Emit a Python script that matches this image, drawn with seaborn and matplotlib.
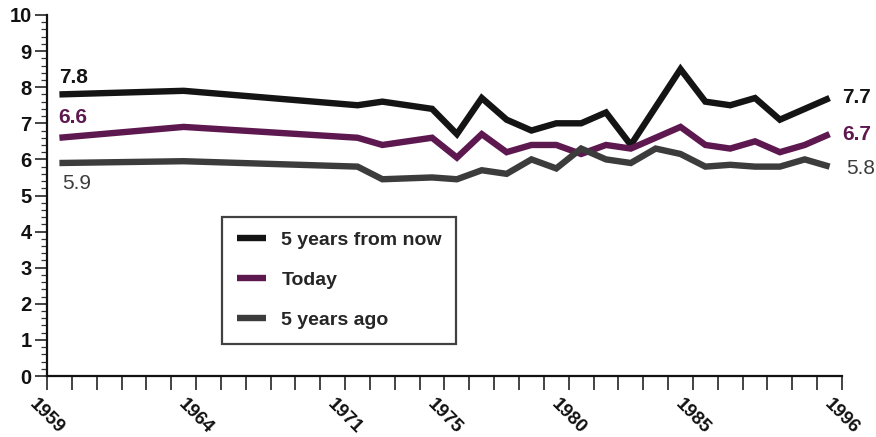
import numpy as np
import pandas as pd
import matplotlib
matplotlib.use("Agg")
import matplotlib.pyplot as plt
import seaborn as sns
from matplotlib.ticker import MultipleLocator, FixedLocator, FixedFormatter

# ---- data ----
# x slot of each survey on the chart's (uneven) time axis
survey_slot = [0.5, 5.5, 12.5, 13.5, 15.5, 16.5, 17.5, 18.5, 19.5, 20.5, 21.5,
               22.5, 23.5, 24.5, 25.5, 26.5, 27.5, 28.5, 29.5, 30.5, 31.5]
future = [7.8, 7.9, 7.5, 7.6, 7.4, 6.7, 7.7, 7.1, 6.8, 7.0, 7.0,
          7.3, 6.4, 7.45, 8.5, 7.6, 7.5, 7.7, 7.1, 7.4, 7.7]
today = [6.6, 6.9, 6.6, 6.4, 6.6, 6.05, 6.7, 6.2, 6.4, 6.4, 6.15,
         6.4, 6.3, 6.6, 6.9, 6.4, 6.3, 6.5, 6.2, 6.4, 6.7]
past = [5.9, 5.95, 5.8, 5.45, 5.5, 5.45, 5.7, 5.6, 6.0, 5.75, 6.3,
        6.0, 5.9, 6.3, 6.15, 5.8, 5.85, 5.8, 5.8, 6.0, 5.8]
series_names = ["5 years from now", "Today", "5 years ago"]
tick_slots = [0, 6, 12, 16, 21, 26, 32]
tick_labels = ["1959", "1964", "1971", "1975", "1980", "1985", "1996"]

colors = {"5 years from now": "#141414", "Today": "#5e1850", "5 years ago": "#3c3c3c"}

rows = []
for name, vals in zip(series_names, [future, today, past]):
    for x, v in zip(survey_slot, vals):
        rows.append({"slot": x, "value": v, "series": name})
df = pd.DataFrame(rows)

sns.set_style("white")
plt.rcParams["font.family"] = ["Liberation Sans", "DejaVu Sans"]

fig = plt.figure(figsize=(8.76, 4.37), dpi=100)
ax = fig.add_axes([47 / 876, 1 - 376 / 437, 795 / 876, 361 / 437])

sns.lineplot(data=df, x="slot", y="value", hue="series", hue_order=series_names,
             palette=colors, linewidth=4.6, ax=ax, legend=True)
for ln in ax.get_lines():
    ln.set_solid_joinstyle("miter")
    ln.set_solid_capstyle("butt")

ax.set_xlim(0, 32)
ax.set_ylim(0, 10)
ax.set_xlabel("")
ax.set_ylabel("")

for s in ["top", "right"]:
    ax.spines[s].set_visible(False)
for s in ["left", "bottom"]:
    ax.spines[s].set_linewidth(1.6)
    ax.spines[s].set_color("#111111")

ax.tick_params(left=True, bottom=True, which="both")

# y ticks
ax.yaxis.set_major_locator(MultipleLocator(1))
ax.yaxis.set_minor_locator(MultipleLocator(0.2))
ax.tick_params(axis="y", which="major", direction="out", length=9, width=1.1,
               colors="#111111", labelsize=14.5, pad=2)
ax.tick_params(axis="y", which="minor", direction="out", length=4.5, width=0.9,
               colors="#333333")
for lab in ax.get_yticklabels():
    lab.set_fontweight("bold")

# x ticks: every slot, labels only at selected slots
all_slots = list(range(0, 33))
labels_full = [""] * len(all_slots)
for s, l in zip(tick_slots, tick_labels):
    labels_full[s] = l
ax.xaxis.set_major_locator(FixedLocator(all_slots))
ax.xaxis.set_major_formatter(FixedFormatter(labels_full))
ax.tick_params(axis="x", which="major", direction="out", length=10, width=1.1,
               colors="#111111", labelsize=13.5, pad=19)
for lab in ax.get_xticklabels():
    lab.set_rotation(-45)
    lab.set_ha("center")
    lab.set_va("center")
    lab.set_rotation_mode("anchor")
    lab.set_fontweight("bold")

# end-value annotations
first_x, last_x = survey_slot[0], survey_slot[-1]
ax.annotate(f"{future[0]:.1f}", (first_x, future[0]), xytext=(0, 17),
            textcoords="offset pixels", ha="left", va="center",
            fontsize=15, fontweight="bold", color=colors["5 years from now"])
ax.annotate(f"{today[0]:.1f}", (first_x, today[0]), xytext=(-1, 20),
            textcoords="offset pixels", ha="left", va="center",
            fontsize=15, fontweight="bold", color=colors["Today"])
ax.annotate(f"{past[0]:.1f}", (first_x, past[0]), xytext=(3, -20),
            textcoords="offset pixels", ha="left", va="center",
            fontsize=15, color=colors["5 years ago"])
ax.annotate(f"{future[-1]:.1f}", (last_x, future[-1]), xytext=(13, 1),
            textcoords="offset pixels", ha="left", va="center",
            fontsize=15, fontweight="bold", color=colors["5 years from now"],
            annotation_clip=False)
ax.annotate(f"{today[-1]:.1f}", (last_x, today[-1]), xytext=(13, 0),
            textcoords="offset pixels", ha="left", va="center",
            fontsize=15, fontweight="bold", color=colors["Today"],
            annotation_clip=False)
ax.annotate(f"{past[-1]:.1f}", (last_x, past[-1]), xytext=(17, -2),
            textcoords="offset pixels", ha="left", va="center",
            fontsize=15, color=colors["5 years ago"], annotation_clip=False)

leg = ax.legend(loc="upper left", bbox_to_anchor=((222 - 47) / 795, (376 - 217) / 361),
                frameon=True, fancybox=False, shadow=False, fontsize=14,
                handlelength=1.5, handletextpad=0.8, labelspacing=1.15,
                borderpad=0.75, borderaxespad=0)
leg.get_frame().set_edgecolor("#111111")
leg.get_frame().set_linewidth(1.6)
for t in leg.get_texts():
    t.set_fontweight("bold")
for h in leg.legend_handles:
    h.set_linewidth(4.6)

fig.savefig("out.png", dpi=100)
